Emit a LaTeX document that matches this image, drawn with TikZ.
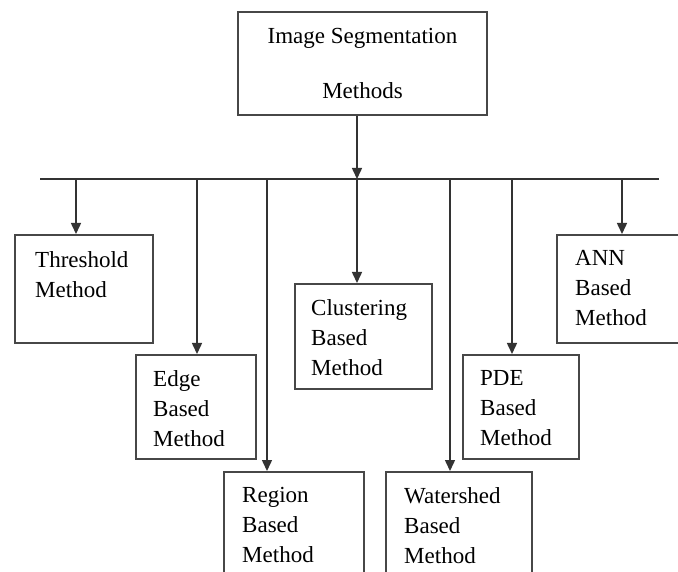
\documentclass[tikz,border=0pt]{standalone}
\usepackage{fontspec}
\setmainfont{Liberation Serif}
\usetikzlibrary{arrows.meta}
\begin{document}
\begin{tikzpicture}[x=1pt,y=-1pt,
  box/.style={draw=black!72,line width=1.6pt,rectangle,inner sep=0pt,anchor=north west},
  lbl/.style={inner sep=0pt,anchor=north west,align=left,text=black,
    font=\fontsize{23}{30}\selectfont},
  wire/.style={draw=black!80,line width=1.5pt},
  arr/.style={wire,-{Triangle[length=11pt,width=10pt]}}]
\useasboundingbox (0,0) rectangle (678,572);
\clip (0,0) rectangle (678,572);
\fill[white] (0,0) rectangle (678,572);

% root box
\node[box,anchor=center,minimum width=249pt,minimum height=103pt,align=center,
  text=black,font=\fontsize{23}{55}\selectfont] (root) at (362.5,63.5)
  {Image Segmentation\\Methods};

% method boxes
\node[box,minimum width=138pt,minimum height=108pt] (threshold) at (14,234) {};
\node[box,minimum width=120pt,minimum height=104pt] (edge) at (135,354) {};
\node[box,minimum width=140pt,minimum height=130pt] (region) at (223,471) {};
\node[box,minimum width=137pt,minimum height=105pt] (clustering) at (294,283) {};
\node[box,minimum width=146pt,minimum height=130pt] (watershed) at (385,471) {};
\node[box,minimum width=116pt,minimum height=104pt] (pde) at (462,354) {};
\node[box,minimum width=144pt,minimum height=108pt] (ann) at (556,234) {};

% labels
\node[lbl] (threshold-t) at ([xshift=21pt,yshift=-17pt]threshold.north west) {Threshold\\Method};
\node[lbl] (edge-t) at ([xshift=18pt,yshift=-16pt]edge.north west) {Edge\\Based\\Method};
\node[lbl] (region-t) at ([xshift=19pt,yshift=-16pt]region.north west) {Region\\Based\\Method};
\node[lbl] (clustering-t) at ([xshift=17pt,yshift=-16pt]clustering.north west) {Clustering\\Based\\Method};
\node[lbl] (watershed-t) at ([xshift=19pt,yshift=-16pt]watershed.north west) {Watershed\\Based\\Method};
\node[lbl] (pde-t) at ([xshift=18pt,yshift=-16pt]pde.north west) {PDE\\Based\\Method};
\node[lbl] (ann-t) at ([xshift=19pt,yshift=-16pt]ann.north west) {ANN\\Based\\Method};

% distribution bus
\coordinate (busL) at (40,179);
\coordinate (busR) at (659,179);
\draw[wire] (busL) -- (busR);

% stem from the root box
\coordinate (stem) at (357,179);
\draw[arr] (stem |- root.south) -- (stem);

% drops from the bus
\coordinate (d1) at (76,179);
\coordinate (d2) at (197,179);
\coordinate (d3) at (267,179);
\coordinate (d4) at (357,179);
\coordinate (d5) at (450,179);
\coordinate (d6) at (512,179);
\coordinate (d7) at (622,179);
\draw[arr] (d1) -- (d1 |- threshold.north);
\draw[arr] (d2) -- (d2 |- edge.north);
\draw[arr] (d3) -- (d3 |- region.north);
\draw[arr] (d4) -- (d4 |- clustering.north);
\draw[arr] (d5) -- (d5 |- watershed.north);
\draw[arr] (d6) -- (d6 |- pde.north);
\draw[arr] (d7) -- (d7 |- ann.north);
\end{tikzpicture}
\end{document}
